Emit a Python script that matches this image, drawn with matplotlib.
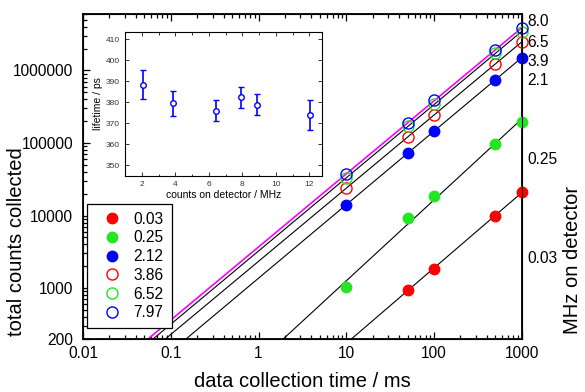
import numpy as np
import matplotlib
matplotlib.use('Agg')
import matplotlib.pyplot as plt
from matplotlib.ticker import FixedLocator, NullLocator, MultipleLocator

plt.rcParams['font.family'] = ['Liberation Sans', 'DejaVu Sans']

# data: collection time (ms) vs total counts
time_003 = [50, 100, 500, 1000]
counts_003 = [950, 1830, 9970, 21100]
time_ms = [10, 50, 100, 500, 1000]
counts_025 = [1040, 9350, 18600, 96600, 192000]
counts_212 = [14000, 73300, 146000, 750000, 1490000]
counts_386 = [23800, 122000, 242000, 1240000, 2470000]
counts_652 = [32600, 171000, 343000, 1740000, 3390000]
counts_797 = [37300, 190000, 389000, 1900000, 3900000]

legend_labels = ['0.03', '0.25', '2.12', '3.86', '6.52', '7.97']

# right hand labels (MHz on detector) and where they sit on the counts scale
mhz_labels = ['8.0', '6.5', '3.9', '2.1', '0.25', '0.03']
mhz_pos = [4.9e6, 2.55e6, 1.38e6, 7.6e5, 6.2e4, 2.7e3]

# inset: lifetime vs count rate
inset_rate = [2.1, 3.85, 6.45, 7.9, 8.9, 12.05]
lifetime = [388.3, 379.5, 375.8, 382.3, 378.7, 373.8]
lifetime_err = [7.0, 6.0, 5.0, 5.0, 5.0, 7.0]

x_ticks = [0.01, 0.1, 1, 10, 100, 1000]
x_ticklabels = ['0.01', '0.1', '1', '10', '100', '1000']
y_ticks = [200, 1000, 10000, 100000, 1000000]
y_ticklabels = ['200', '1000', '10000', '100000', '1000000']

red = '#ff0000'
green = '#22e622'
blue = '#0000ff'

fig = plt.figure(figsize=(5.85, 3.92), dpi=100)
ax = fig.add_axes([0.142, 0.1357, 0.750, 0.8285])
ax.set_xscale('log')
ax.set_yscale('log')
ax.set_xlim(0.01, 1000)
ax.set_ylim(200, 6e6)

series = [
    (time_003, counts_003, red, 'full', 'k'),
    (time_ms, counts_025, green, 'full', 'k'),
    (time_ms, counts_212, blue, 'full', 'k'),
    (time_ms, counts_386, red, 'none', 'k'),
    (time_ms, counts_652, green, 'none', 'k'),
    (time_ms, counts_797, blue, 'none', '#ff00ff'),
]

# power law fit lines first, then the points on top
t_line = np.logspace(-2, 3, 200)
for t, c, col, fill, lcol in series:
    p = np.polyfit(np.log10(t), np.log10(c), 1)
    ax.plot(t_line, 10 ** np.polyval(p, np.log10(t_line)), color=lcol,
            lw=1.2 if lcol != 'k' else 0.8, zorder=2)

handles = []
for (t, c, col, fill, lcol), lab in zip(series, legend_labels):
    if fill == 'full':
        h, = ax.plot(t, c, 'o', color=col, ms=7.5, mec=col, ls='none',
                     zorder=3, clip_on=False, label=lab)
    else:
        h, = ax.plot(t, c, 'o', mfc='none', mec=col, mew=1.0, ms=8, ls='none',
                     zorder=3, clip_on=False, label=lab)
    handles.append(h)

ax.xaxis.set_major_locator(FixedLocator(x_ticks))
ax.set_xticklabels(x_ticklabels)
ax.yaxis.set_major_locator(FixedLocator(y_ticks))
ax.set_yticklabels(y_ticklabels)
ax.tick_params(which='both', direction='in', top=True, right=True,
               labelsize=11.2, width=0.9)
ax.tick_params(which='major', length=5)
ax.tick_params(which='minor', length=2.8)
ax.tick_params(axis='y', pad=7)
ax.tick_params(axis='x', pad=5)
for s in ax.spines.values():
    s.set_linewidth(1.3)

ax.set_xlabel('data collection time / ms', fontsize=14.5)
ax.xaxis.set_label_coords(0.5, -0.102)
ax.set_ylabel('total counts collected', fontsize=14.5)
ax.yaxis.set_label_coords(-0.13, 0.30)

leg = ax.legend(handles=handles, loc='lower left', bbox_to_anchor=(0.009, 0.033),
                borderaxespad=0, fontsize=11.2, frameon=True, fancybox=False,
                edgecolor='k', framealpha=1, labelspacing=0.24,
                handlelength=2.25, handletextpad=0.25, borderpad=0.5)
leg.get_frame().set_linewidth(0.9)

# right axis: labels for each rate
ax2 = ax.twinx()
ax2.set_yscale('log')
ax2.set_ylim(ax.get_ylim())
ax2.yaxis.set_major_locator(FixedLocator(mhz_pos))
ax2.set_yticklabels(mhz_labels)
ax2.yaxis.set_minor_locator(NullLocator())
ax2.tick_params(axis='y', length=0, labelsize=11.2, pad=4)
ax2.set_ylabel('MHz on detector', fontsize=14.5)
ax2.yaxis.set_label_coords(1.094, 0.243)

# inset
axi = fig.add_axes([0.2137, 0.5518, 0.3368, 0.3673])
axi.errorbar(inset_rate, lifetime, yerr=lifetime_err, fmt='o', color=blue,
             mfc='white', mec=blue, ms=4, mew=1.0, elinewidth=1.2, capsize=2)
axi.set_xlim(1, 12.75)
axi.set_ylim(345, 413.5)
axi.xaxis.set_major_locator(MultipleLocator(2))
axi.xaxis.set_minor_locator(MultipleLocator(1))
axi.yaxis.set_major_locator(MultipleLocator(10))
axi.tick_params(which='both', direction='in', top=True, right=True,
                labelsize=6, colors='#333333', width=0.7)
axi.tick_params(which='major', length=3)
axi.tick_params(which='minor', length=1.8)
for s in axi.spines.values():
    s.set_linewidth(0.8)
axi.set_xlabel('counts on detector / MHz', fontsize=7.5, labelpad=2)
axi.set_ylabel('lifetime / ps', fontsize=7.5, labelpad=2)

fig.savefig('out.png', dpi=100)
